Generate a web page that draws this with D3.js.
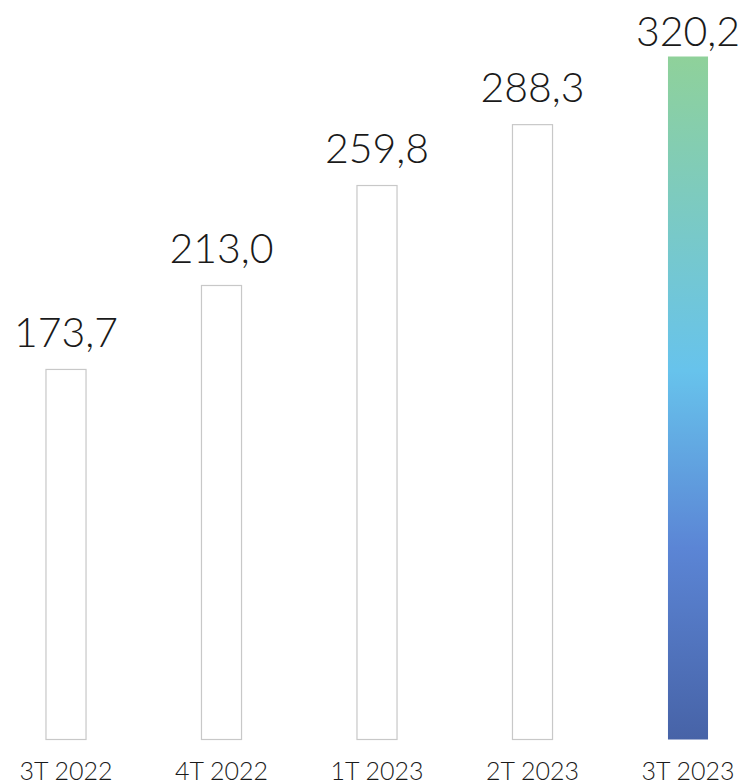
<!DOCTYPE html>
<html>
<head>
<meta charset="utf-8">
<script src="https://cdn.jsdelivr.net/npm/d3@7"></script>
<style>
  body { margin: 0; background: #fff; }
  svg text { font-family: Lato, "Open Sans", sans-serif; fill: #1a1a1a; }
</style>
</head>
<body>
<svg id="chart"></svg>
<script>
const categories = ["3T 2022", "4T 2022", "1T 2023", "2T 2023", "3T 2023"];
const values = [173.7, 213.0, 259.8, 288.3, 320.2];
const labels = ["173,7", "213,0", "259,8", "288,3", "320,2"];

const width = 746;
const height = 784;
const BASE_Y = 740;
const TOP_Y = 56;
const LABEL_GAP = 22;

const svg = d3.select("#chart")
    .attr("width", width)
    .attr("height", height);

const x = d3.scaleBand()
    .domain(categories)
    .range([-11.75, 765.75])
    .paddingInner(0.736)
    .paddingOuter(0.368);

const y = d3.scaleLinear()
    .domain([0, d3.max(values)])
    .range([BASE_Y, TOP_Y]);

const defs = svg.append("defs");
const grad = defs.append("linearGradient")
    .attr("id", "lastBar")
    .attr("x1", 0).attr("y1", 0)
    .attr("x2", 0).attr("y2", 1);
grad.append("stop").attr("offset", "0%").attr("stop-color", "#8fd19a");
grad.append("stop").attr("offset", "46%").attr("stop-color", "#67c3ec");
grad.append("stop").attr("offset", "72%").attr("stop-color", "#5b85d5");
grad.append("stop").attr("offset", "100%").attr("stop-color", "#4763a7");

const data = categories.map(function (c, i) {
    return { cat: c, value: values[i], label: labels[i], last: i === categories.length - 1 };
});

svg.append("g")
    .selectAll("rect")
    .data(data)
    .enter().append("rect")
    .attr("x", function (d) { return x(d.cat) + 0.5; })
    .attr("y", function (d) { return y(d.value) + 0.5; })
    .attr("width", x.bandwidth() - 1)
    .attr("height", function (d) { return y(0) - y(d.value) - 1; })
    .attr("fill", function (d) { return d.last ? "url(#lastBar)" : "#fff"; })
    .attr("stroke", function (d) { return d.last ? "none" : "#c8c8c8"; })
    .attr("stroke-width", 1.2);

// value labels; the tallest one is squeezed down so it stays inside the page
svg.append("g")
    .selectAll("text")
    .data(data)
    .enter().append("text")
    .attr("x", function (d) { return x(d.cat) + x.bandwidth() / 2; })
    .attr("y", function (d) { return Math.max(y(d.value) - LABEL_GAP, 46); })
    .attr("text-anchor", "middle")
    .attr("font-size", 41)
    .attr("font-weight", 300)
    .text(function (d) { return d.label; });

// category labels
const xAxis = svg.append("g")
    .attr("transform", `translate(0, ${BASE_Y})`)
    .call(d3.axisBottom(x).tickSize(0).tickPadding(0));
xAxis.select(".domain").remove();
xAxis.selectAll("text")
    .attr("y", 40)
    .attr("dy", 0)
    .attr("font-size", 25)
    .attr("font-family", "Lato, sans-serif")
    .attr("font-weight", 300)
    .attr("fill", "#1a1a1a");
</script>
</body>
</html>
